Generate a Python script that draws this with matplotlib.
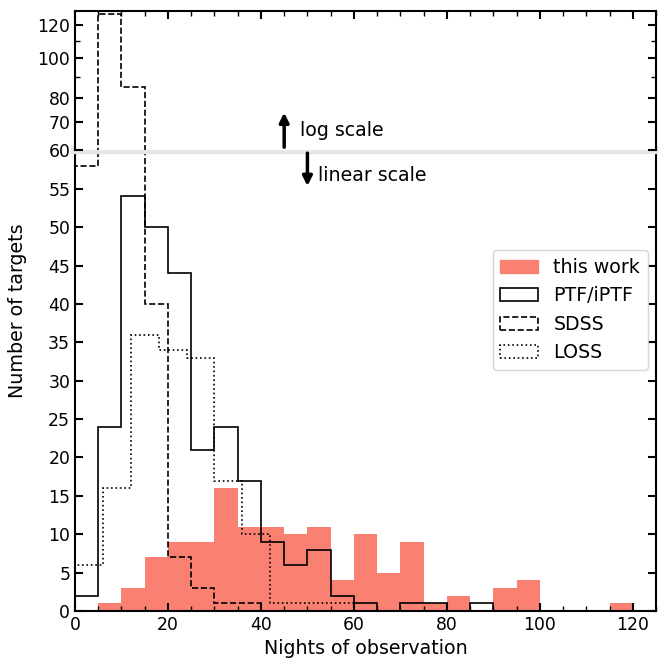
from matplotlib import pyplot as plt
from matplotlib.patches import Patch
import numpy as np

# bin edges (nights of observation)
edges_5 = np.arange(0, 125, 5)
edges_loss = np.arange(0, 66, 6)

# counts per bin
this_work = [0, 1, 3, 7, 9, 9, 16, 11, 11, 10, 11, 4, 10, 5, 9, 1, 2, 0, 3, 4, 0, 0, 0, 1]
ptf = [2, 24, 54, 50, 44, 21, 24, 17, 9, 6, 8, 2, 1, 0, 1, 1, 0, 1, 0, 0, 0, 0, 0, 0]
sdss = [58, 128, 85, 40, 7, 3, 1, 1, 0, 0, 0, 0, 0, 0, 0, 0, 0, 0, 0, 0, 0, 0, 0, 0]
loss = [6, 16, 36, 34, 33, 17, 10, 1, 1, 1]

plt.rcParams['font.size'] = 13.7
plt.rcParams['xtick.labelsize'] = 12.4
plt.rcParams['ytick.labelsize'] = 12.4
plt.rcParams['axes.linewidth'] = 1.5

fig = plt.figure(figsize=(6.58, 6.6), dpi=100)
ax_lin = fig.add_axes([0.114, 0.0742, 0.883, 0.698])
ax_log = fig.add_axes([0.114, 0.7727, 0.883, 0.2106], sharex=ax_lin)

for ax in (ax_lin, ax_log):
    ax.stairs(this_work, edges_5, fill=True, color='salmon')
    ax.stairs(ptf, edges_5, color='k', lw=1.2)
    ax.stairs(sdss, edges_5, color='k', lw=1.2, ls='--')
    ax.stairs(loss, edges_loss, color='k', lw=1.2, ls=':')
    ax.tick_params(which='both', direction='in', top=True, right=True)
    ax.tick_params(which='major', length=6, width=1.5)
    ax.tick_params(which='minor', length=3.5, width=1)

# linear part
ax_lin.set_ylim(0, 60)
ax_lin.set_xlim(0, 125)
ax_lin.set_yticks(np.arange(0, 60, 5))
ax_lin.set_xticks(np.arange(0, 121, 20))
ax_lin.set_xticks(np.arange(0, 126, 5), minor=True)
ax_lin.spines['top'].set_visible(False)
ax_lin.tick_params(which='both', top=False)
ax_lin.set_xlabel('Nights of observation')

# log part
ax_log.set_yscale('log')
ax_log.set_ylim(60, 130)
ax_log.set_yticks([60, 70, 80, 100, 120])
ax_log.set_yticklabels(['60', '70', '80', '100', '120'])
ax_log.set_yticks([90, 110], minor=True)
ax_log.yaxis.set_minor_formatter(plt.NullFormatter())
ax_log.spines['bottom'].set_visible(False)
ax_log.tick_params(which='both', bottom=False, labelbottom=False)

# boundary band
ax_lin.axhline(60, color='0.9', lw=6, clip_on=False, zorder=5)

ax_log.annotate('', xy=(45, 75), xytext=(45, 60),
                arrowprops=dict(arrowstyle='-|>', lw=2.5, color='k', mutation_scale=14))
ax_log.text(48.4, 67, 'log scale', va='center')
ax_lin.annotate('', xy=(50, 55), xytext=(50, 60),
                arrowprops=dict(arrowstyle='-|>', lw=2.5, color='k', mutation_scale=14),
                annotation_clip=False, zorder=6)
ax_lin.text(52.3, 56.75, 'linear scale', va='center')

handles = [
    Patch(facecolor='salmon', edgecolor='salmon', label='this work'),
    Patch(facecolor='none', edgecolor='k', lw=1.2, label='PTF/iPTF'),
    Patch(facecolor='none', edgecolor='k', lw=1.2, ls='--', label='SDSS'),
    Patch(facecolor='none', edgecolor='k', lw=1.2, ls=':', label='LOSS'),
]
ax_lin.legend(handles=handles, loc='upper right', bbox_to_anchor=(0.986, 0.783),
              borderaxespad=0)
fig.text(0.027, 0.529, 'Number of targets', rotation=90, va='center', ha='center')

fig.savefig('out.png')
